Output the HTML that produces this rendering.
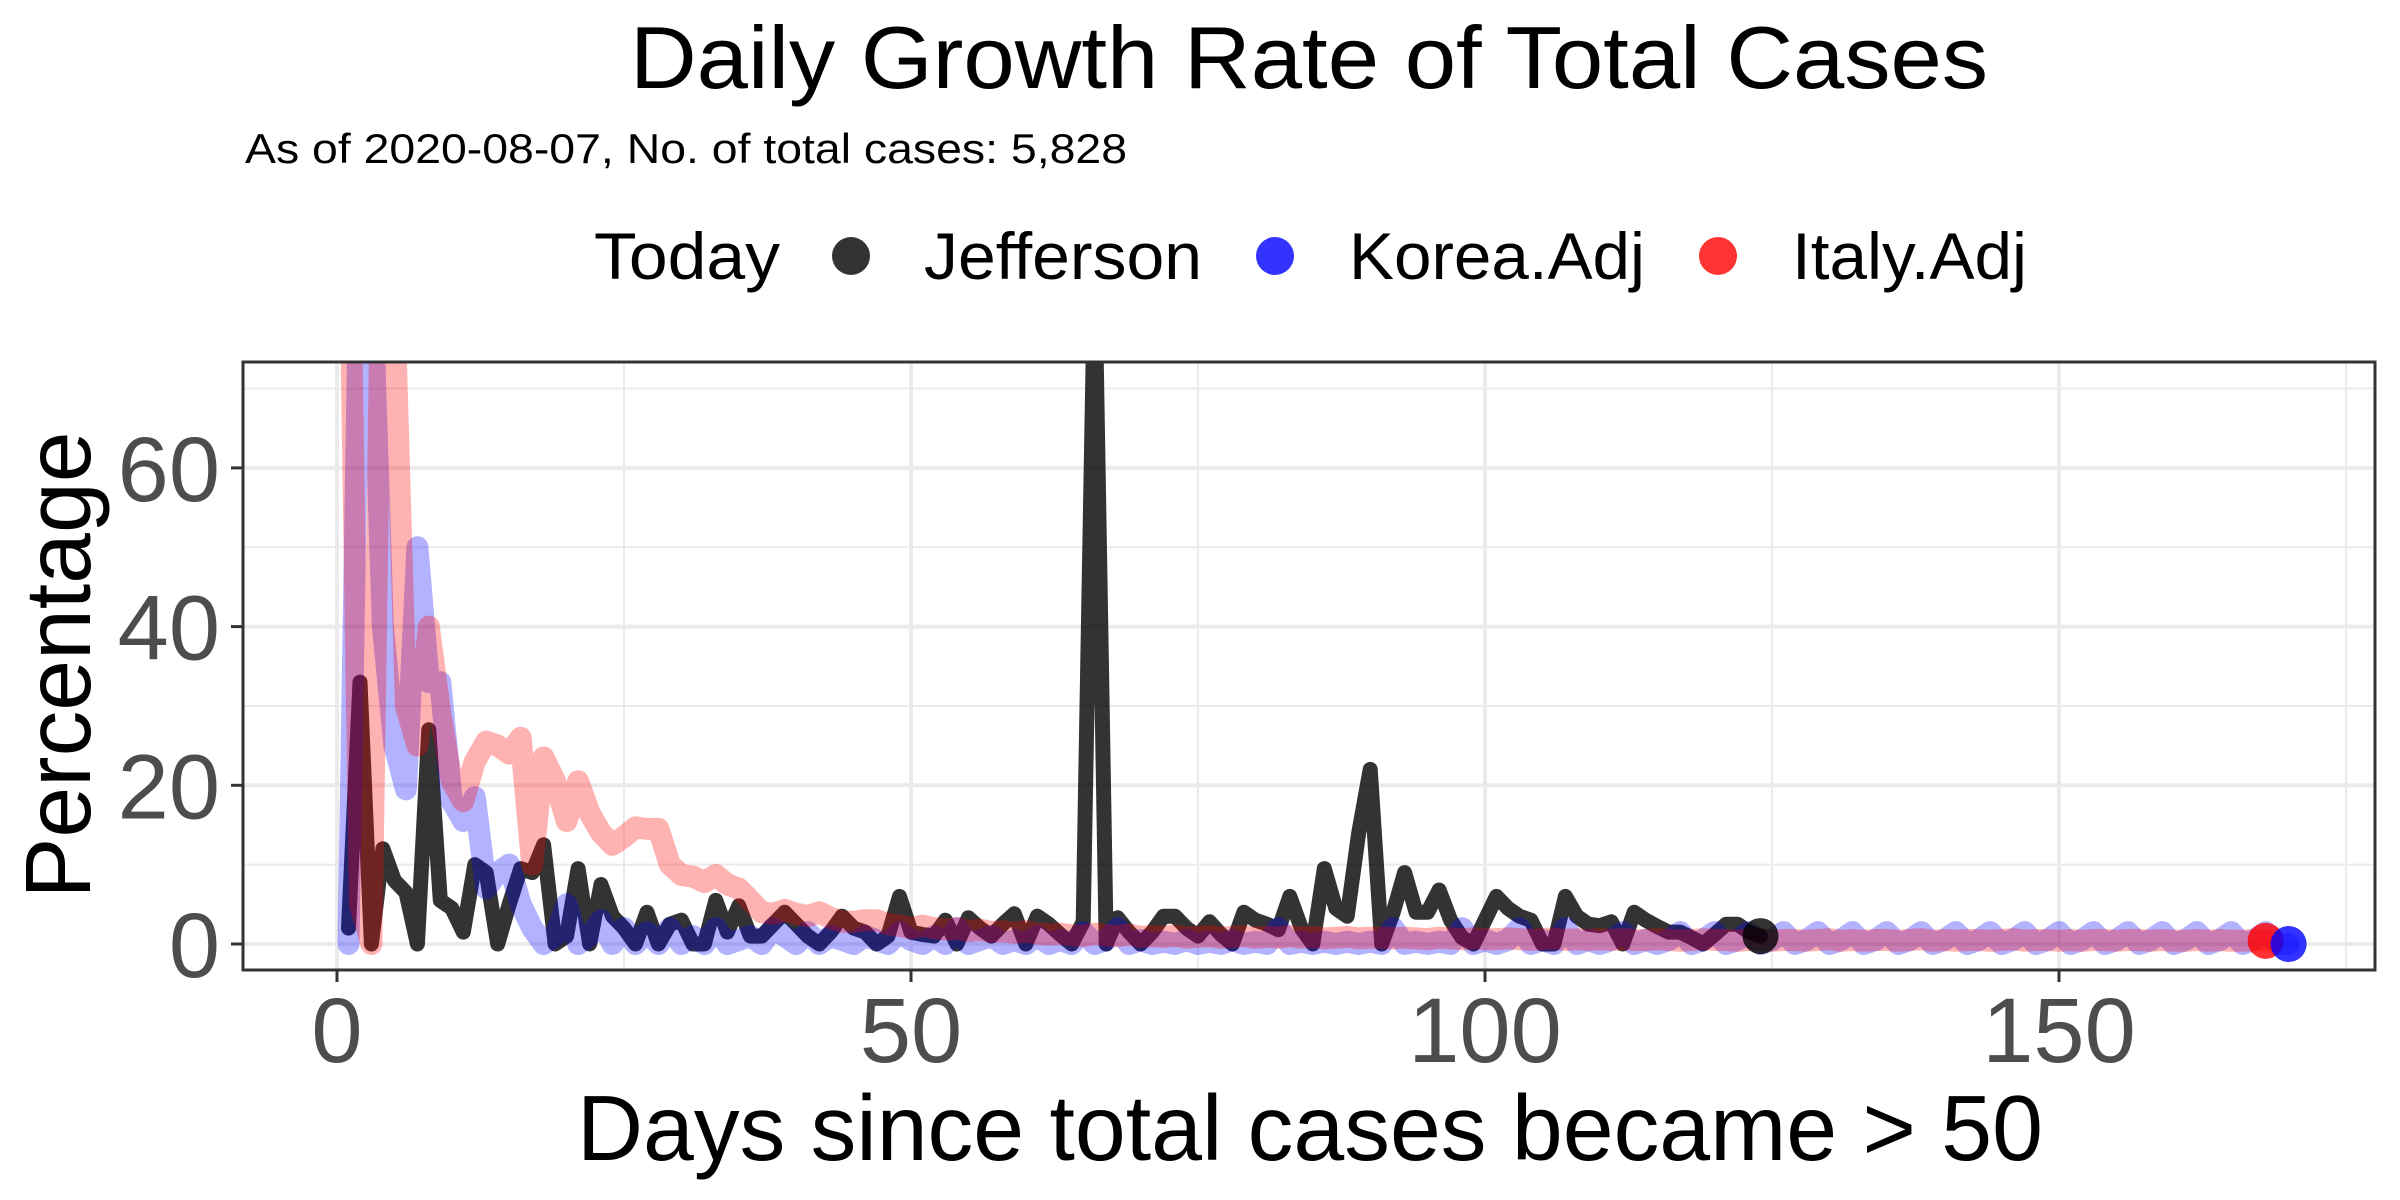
<!DOCTYPE html>
<html><head><meta charset="utf-8"><style>
html,body{margin:0;padding:0;background:#fff;}
svg{display:block;font-family:"Liberation Sans",sans-serif;}
</style></head><body>
<svg id="chart" width="2400" height="1200" viewBox="0 0 2400 1200" xmlns="http://www.w3.org/2000/svg">
<rect width="2400" height="1200" fill="#fff"/>
<text x="630" y="88" font-size="88" textLength="1358" lengthAdjust="spacingAndGlyphs" fill="#000">Daily Growth Rate of Total Cases</text>
<text x="245" y="163" font-size="42" textLength="882" lengthAdjust="spacingAndGlyphs" fill="#000">As of 2020-08-07, No. of total cases: 5,828</text>
<g>
<text x="594" y="279" font-size="66" textLength="186" lengthAdjust="spacingAndGlyphs">Today</text>
<circle cx="851" cy="256" r="19" fill="#000" fill-opacity="0.8"/>
<text x="924" y="279" font-size="66" textLength="278" lengthAdjust="spacingAndGlyphs">Jefferson</text>
<circle cx="1275" cy="256" r="19" fill="#0000ff" fill-opacity="0.8"/>
<text x="1349" y="279" font-size="66" textLength="296" lengthAdjust="spacingAndGlyphs">Korea.Adj</text>
<circle cx="1718" cy="256" r="19" fill="#ff0000" fill-opacity="0.8"/>
<text x="1792" y="279" font-size="66" textLength="235" lengthAdjust="spacingAndGlyphs">Italy.Adj</text>
</g>
<defs><clipPath id="pc"><rect x="243" y="362" width="2132" height="608"/></clipPath></defs>
<g id="grid"></g>
<g id="series" clip-path="url(#pc)"></g>
<rect x="243" y="362" width="2132" height="608" fill="none" stroke="#333" stroke-width="3"/>
<g id="axes"></g>
<text x="577" y="1160" font-size="93" textLength="1466" lengthAdjust="spacingAndGlyphs">Days since total cases became &gt; 50</text>
<text transform="translate(90,665) rotate(-90)" text-anchor="middle" font-size="93" textLength="467" lengthAdjust="spacingAndGlyphs">Percentage</text>
</svg>
<script>
const xTicks=[0,50,100,150];
const xMinor=[25,75,125,175];
const yTicks=[0,20,40,60];
const yMinor=[10,30,50,70];
const jefferson=[2,33,0,12,8,6.5,0,27,5.5,4.5,1.5,10,9,0,5,9.5,9,12.5,0,1,9.5,0,7.5,3.5,2,0,4,0,2.5,3,0,0,5.5,1.5,4.8,1,1,2.5,4,2.5,1,0,1.5,3.5,2,1.5,0,1,6,1.5,1.2,1,3,0,3.3,2,1,2.5,3.8,0,3.5,2.5,1.2,0,2.8,85,0,3.3,1.5,0,1.5,3.5,3.5,2,1,2.8,1.2,0,4,3,2.5,1.8,6,2,0,9.5,4.5,3.5,14,22,0,4,9,4,4,6.8,3,0.8,0,3,6,4.5,3.5,3,0,0,6,3.5,2.5,2.3,2.8,0,4,3,2.2,1.5,1.5,0.8,0,1.2,2.5,2.5,1.5,1];
const korea=[0,90,85,40,25,19.5,50,33,33,18,15.5,18.5,7,9,10,5,2,0,1,5,0,1,3,0,2,0,1.5,0,2,0,
1,0,2,0,0.5,1,0,2,1,0,1.5,0,1,0.5,0,1,0.5,0,1.5,0.5,0,1,0,2,0,0.5,1,0,0.5,0,
1,0,0.5,0,1.5,0,0.5,2,0,0.5,0,0.3,0,0.5,0,0.3,0,0.5,0,0.3,0,2,0,0.3,0,0.3,0,0.3,0,0.3,
0,2,0,0.3,0,0.3,0,2,0,0.5,0,0.5,2,0,0.5,0,2,0,0.5,0,0.5,1.5,0,0.5,0,0.5,1.5,0,0.5,1.5,
0,0.5,1.5,0,0.5,1.5,0,0.5,1.5,0,0.5,1.5,0,0.5,1.5,0,0.5,1.5,0,0.5,1.5,0,0.5,1.5,0,0.5,1.5,0,0.5,1.5,
0,0.5,1.5,0,0.5,1.5,0,0.5,1.5,0,0.5,1.5,0,0.5,1.5,0,0.5,1.5,0,0];
const italy=[100,5,0,100,80,30,25,40,29,20.5,18,23,25.5,25,24,26,10,23.5,20.5,15.5,20.5,16.5,14,12.5,13.5,14.7,14.5,14.5,10,8.7,
8.5,7.8,8.7,7.5,7,5.5,4,3.8,4.3,3.8,3.5,4,3.3,2.8,2.8,3,3,2.5,2.3,2,2.3,2,1.8,2,1.6,1.8,1.5,1.6,1.4,1.6,
1.3,1.2,1.3,1.1,1,1.3,1.1,1,1.2,0.9,1,0.9,1.1,0.8,0.9,1,0.8,0.9,1,0.8,0.9,0.8,1,0.8,0.9,0.7,0.8,0.9,0.7,0.8,
0.8,0.7,0.8,0.7,0.6,0.8,0.7,0.6,0.7,0.6,0.6,0.7,0.6,0.5,0.6,0.7,0.5,0.6,0.5,0.6,0.5,0.6,0.5,0.5,0.6,0.5,0.4,0.5,0.6,0.5,
0.5,0.4,0.5,0.6,0.4,0.5,0.5,0.4,0.5,0.6,0.4,0.5,0.4,0.5,0.5,0.4,0.5,0.6,0.4,0.5,0.4,0.5,0.5,0.4,0.5,0.6,0.4,0.5,0.5,0.4,
0.5,0.4,0.5,0.5,0.4,0.5,0.5,0.4,0.5,0.4,0.4,0.5,0.4,0.5,0.4,0.4,0.5,0.4];
const NS='http://www.w3.org/2000/svg';
function X(d){return 337+11.48*d;}
function Y(v){return 944-7.935*v;}
function mk(tag,attrs,parent){const e=document.createElementNS(NS,tag);for(const k in attrs)e.setAttribute(k,attrs[k]);parent.appendChild(e);return e;}
const grid=document.getElementById('grid'),ser=document.getElementById('series'),axes=document.getElementById('axes');
yMinor.forEach(v=>{const l=mk('line',{x1:243,x2:2375,y1:Y(v),y2:Y(v),stroke:'#ebebeb','stroke-width':2},grid);

});
xMinor.forEach(v=>{const l=mk('line',{x1:X(v),x2:X(v),y1:362,y2:970,stroke:'#ebebeb','stroke-width':2},grid);

});
yTicks.forEach(v=>{const l=mk('line',{x1:243,x2:2375,y1:Y(v),y2:Y(v),stroke:'#ebebeb','stroke-width':4},grid);


const t=mk('line',{x1:231,x2:243,y1:Y(v),y2:Y(v),stroke:'#333','stroke-width':3},axes);


const tx=mk('text',{x:220,y:Y(v)+33,'text-anchor':'end','font-size':92,fill:'#4d4d4d'},axes);tx.textContent=v;

});
xTicks.forEach(v=>{const l=mk('line',{x1:X(v),x2:X(v),y1:362,y2:970,stroke:'#ebebeb','stroke-width':4},grid);


const t=mk('line',{x1:X(v),x2:X(v),y1:970,y2:982,stroke:'#333','stroke-width':3},axes);


const tx=mk('text',{x:X(v),y:1062,'text-anchor':'middle','font-size':92,fill:'#4d4d4d'},axes);tx.textContent=v;

});
function line(arr,color,op,w,name){
const pts=arr.map((v,i)=>X(i+1).toFixed(1)+','+Y(v).toFixed(1)).join(' ');
const p=mk('polyline',{points:pts,fill:'none',stroke:color,'stroke-opacity':op,'stroke-width':w,'stroke-linejoin':'round','stroke-linecap':'round'},ser);

}
function dot(arr,color,name){const n=arr.length;
const c=mk('circle',{cx:X(n),cy:Y(arr[n-1]),r:18,fill:color,'fill-opacity':0.8},ser);

}
line(jefferson,'#000',0.8,15,'jefferson-line');
line(korea,'#0000ff',0.3,22,'korea-line');
line(italy,'#ff0000',0.3,22,'italy-line');
dot(jefferson,'#000','jefferson-today-point');
dot(italy,'#ff0000','italy-today-point');
dot(korea,'#0000ff','korea-today-point');
</script>
</body></html>
